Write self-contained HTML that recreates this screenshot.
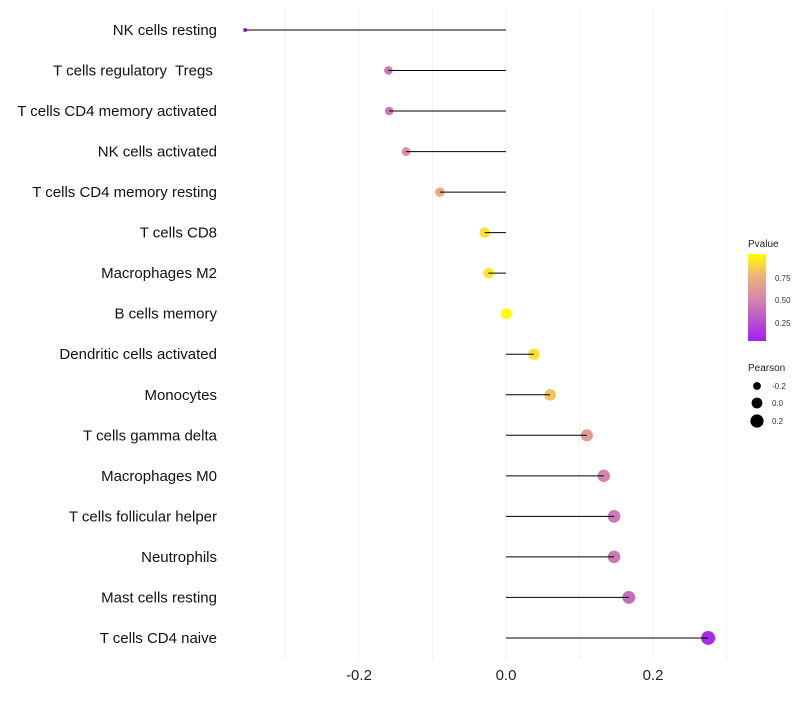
<!DOCTYPE html>
<html><head><meta charset="utf-8"><style>
body{margin:0;background:#fff;font-family:"Liberation Sans",sans-serif}
</style></head><body>
<svg id="c" width="800" height="700" xmlns="http://www.w3.org/2000/svg">
<defs><linearGradient id="g" x1="0" y1="1" x2="0" y2="0">
<stop offset="0" stop-color="#a020f0"/><stop offset="0.5" stop-color="#d58aa8"/><stop offset="0.75" stop-color="#efb27a"/><stop offset="1" stop-color="#ffff00"/></linearGradient></defs>
<g id="grid"></g><g id="marks"></g><g id="labels"></g>
<g font-size="10">
<text x="748" y="247" fill="#222">Pvalue</text>
<rect x="748" y="254" width="18" height="87" fill="url(#g)"/>
<g font-size="8" fill="#333">
<text x="775" y="281">0.75</text><text x="775" y="303">0.50</text><text x="775" y="326">0.25</text></g>
<text x="748" y="371" fill="#222">Pearson</text>
<circle cx="757" cy="386" r="3.9" fill="#000"/><circle cx="757" cy="403" r="5.4" fill="#000"/><circle cx="757" cy="421" r="6.6" fill="#000"/>
<g font-size="8" fill="#333"><text x="772" y="389">-0.2</text><text x="772" y="406">0.0</text><text x="772" y="424">0.2</text></g>
</g>
</svg>
<script>
const categories=["NK cells resting","T cells regulatory  Tregs\u00a0","T cells CD4 memory activated","NK cells activated","T cells CD4 memory resting","T cells CD8","Macrophages M2","B cells memory","Dendritic cells activated","Monocytes","T cells gamma delta","Macrophages M0","T cells follicular helper","Neutrophils","Mast cells resting","T cells CD4 naive"];
const pearson=[-0.355,-0.160,-0.159,-0.136,-0.090,-0.029,-0.024,0.0,0.038,0.060,0.110,0.133,0.147,0.147,0.167,0.275];
const pvalue=[0.02,0.40,0.40,0.55,0.70,0.90,0.92,1.0,0.90,0.80,0.62,0.47,0.42,0.42,0.36,0.06];
const xTicks=[-0.2,0.0,0.2];
const xGrid=[-0.3,-0.2,-0.1,0,0.1,0.2,0.3];
const NS="http://www.w3.org/2000/svg";
const x=v=>506+v*735;
const y=i=>30+i*40.53;
const rad=v=>Math.sqrt(Math.max(1,4+(v+0.355)*71.4));
function col(p){const stops=[[0,[160,32,240]],[0.5,[213,138,168]],[0.75,[239,178,122]],[1,[255,255,0]]];
for(let k=1;k<stops.length;k++){if(p<=stops[k][0]){const a=stops[k-1],b=stops[k],t=(p-a[0])/(b[0]-a[0]);return `rgb(${a[1].map((c,j)=>Math.round(c+(b[1][j]-c)*t)).join(',')})`;}}return "rgb(255,255,0)";}
function mk(tag,at,parent){const e=document.createElementNS(NS,tag);for(const k in at)e.setAttribute(k,at[k]);document.getElementById(parent).appendChild(e);return e;}
xGrid.forEach(v=>{const l=mk('line',{x1:x(v),x2:x(v),y1:8,y2:660,stroke:'#f2f2f2','stroke-width':1},'grid');

});
xTicks.forEach(v=>{const t=mk('text',{x:x(v),y:680,'text-anchor':'middle','font-size':15,fill:'#222'},'labels');t.textContent=v.toFixed(1);

});
categories.forEach((c,i)=>{
const cy=y(i);
const p=mk('circle',{cx:x(pearson[i]),cy:cy,r:rad(pearson[i]),fill:col(pvalue[i])},'marks');


const s=mk('line',{x1:x(0),x2:x(pearson[i]),y1:cy,y2:cy,stroke:'#000','stroke-width':1},'marks');


const t=mk('text',{x:217,y:cy+5,'text-anchor':'end','font-size':15,fill:'#111'},'labels');t.textContent=c;
t.setAttribute('xml:space','preserve');t.style.whiteSpace='pre';


});
</script>
</body></html>
